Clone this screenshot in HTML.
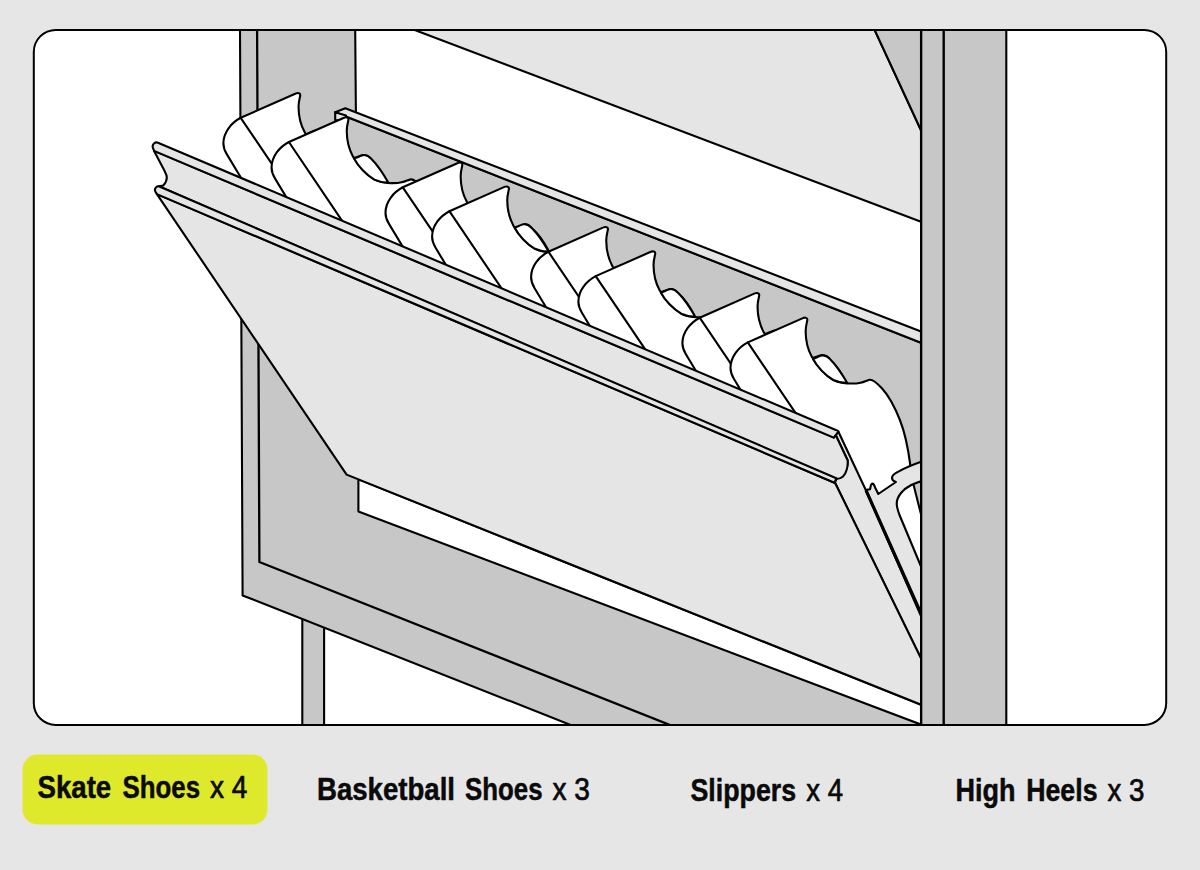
<!DOCTYPE html>
<html><head><meta charset="utf-8"><title>Shoe cabinet</title>
<style>
html,body{margin:0;padding:0;background:#e6e6e6;}
body{width:1200px;height:870px;overflow:hidden;position:relative;font-family:"Liberation Sans",sans-serif;}
svg{position:absolute;left:0;top:0;display:block}
text{font-family:"Liberation Sans",sans-serif;fill:#0a0a0a;stroke:#0a0a0a;stroke-width:.7px;stroke-linejoin:round}
.b{stroke-width:.5px}
.b{font-weight:700}
</style></head><body>
<svg width="1200" height="870" viewBox="0 0 1200 870">
<defs><clipPath id="fr"><rect x="33.8" y="29.95" width="1132.4" height="695.05" rx="22" ry="22"/></clipPath></defs>
<rect x="0" y="0" width="1200" height="870" fill="#e6e6e6"/>
<rect x="33.8" y="29.95" width="1132.4" height="695.05" rx="22" ry="22" fill="#fff"/>
<g clip-path="url(#fr)">
<path d="M302.30,600.00 L302.30,760.00 L324.10,760.00 L324.10,600.00 Z" fill="#c7c7c7" stroke="#000" stroke-width="2.1" stroke-linejoin="round" stroke-linecap="round" />
<path d="M240.00,30.00 L355.20,30.00 L355.90,112.00 L335.20,112.30 L921.00,342.70 L921.00,760.00 L659.31,760.00 L242.60,595.40 Z" fill="#c7c7c7" stroke="#000" stroke-width="2.1" stroke-linejoin="round" stroke-linecap="round" />
<path d="M257.10,30.00 L259.40,562.00 L763.18,762.00" fill="none" stroke="#000" stroke-width="2.3" stroke-linejoin="round" stroke-linecap="round" />
<path d="M414.70,30.00 L874.70,30.00 L921.00,130.30 L921.00,221.80 Z" fill="#e5e5e5" stroke="#000" stroke-width="2.1" stroke-linejoin="round" stroke-linecap="round" />
<path d="M874.70,30.00 L921.00,30.00 L921.00,130.30 Z" fill="#c7c7c7" stroke="#000" stroke-width="2.1" stroke-linejoin="round" stroke-linecap="round" />
<path d="M358.40,479.33 L358.40,511.50 L921.00,724.60 L921.00,704.68 Z" fill="#fff" stroke="#000" stroke-width="2.1" stroke-linejoin="round" stroke-linecap="round" />
<path d="M335.20,112.30 L345.30,108.20 L921.00,331.50 L921.00,342.70 Z" fill="#e5e5e5" stroke="#000" stroke-width="2.1" stroke-linejoin="round" stroke-linecap="round" />
<path d="M335.20,112.30 L335.20,120.30 L346.00,120.30 L346.00,115.50 Z" fill="#e5e5e5" stroke="#000" stroke-width="2.1" stroke-linejoin="round" stroke-linecap="round" />
<path d="M240.70,117.80 L295.80,93.50 C297.70,92.60 300.70,93.10 300.20,95.70 C299.80,97.90 298.50,101.90 298.55,106.90 C298.60,116.90 301.30,125.90 304.60,132.00 C309.30,140.90 318.30,150.90 326.30,155.40 C331.30,157.70 336.30,158.60 342.30,158.90 C346.30,159.10 350.30,158.80 353.40,158.10 C357.30,157.50 359.80,155.70 362.50,155.20 C366.30,154.70 370.80,159.40 375.00,163.90 C381.30,170.90 388.30,183.90 392.80,195.40 C397.80,207.90 401.30,225.90 403.20,240.40 L413.20,291.80 L423.30,342.90  L358.30,342.90 L266.90,220.80 L226.90,154.40 C224.70,150.80 223.30,147.30 223.40,143.10 C223.50,132.30 231.20,122.80 240.70,117.80 Z" fill="#fff" stroke="#000" stroke-width="2.1" stroke-linejoin="round" stroke-linecap="round" />
<path d="M240.70,117.80 L300.70,206.60" fill="none" stroke="#000" stroke-width="2.1" stroke-linejoin="round" stroke-linecap="round" />
<path d="M306.00,134.40 C308.30,133.40 312.30,131.40 314.80,130.90 C317.30,130.40 320.30,131.40 323.30,134.80 C329.30,140.90 335.30,149.90 340.20,158.50 C334.30,158.30 330.30,157.30 326.30,155.40 C318.30,150.90 309.80,141.90 306.00,134.40 Z" fill="#fff" stroke="#000" stroke-width="2.1" stroke-linejoin="round" stroke-linecap="round" />
<path d="M288.90,142.00 L344.00,117.70 C345.90,116.80 348.90,117.30 348.40,119.90 C348.00,122.10 346.70,126.10 346.75,131.10 C346.80,141.10 349.50,150.10 352.80,156.20 C357.50,165.10 366.50,175.10 374.50,179.60 C379.50,181.90 384.50,182.80 390.50,183.10 C394.50,183.30 398.50,183.00 401.60,182.30 C405.50,181.70 408.00,179.90 410.70,179.40 C414.50,178.90 419.00,183.60 423.20,188.10 C429.50,195.10 436.50,208.10 441.00,219.60 C446.00,232.10 449.50,250.10 451.40,264.60 L461.40,316.00 L471.50,367.10  L406.50,367.10 L315.10,245.00 L275.10,178.60 C272.90,175.00 271.50,171.50 271.60,167.30 C271.70,156.50 279.40,147.00 288.90,142.00 Z" fill="#fff" stroke="#000" stroke-width="2.1" stroke-linejoin="round" stroke-linecap="round" />
<path d="M288.90,142.00 L348.90,230.80" fill="none" stroke="#000" stroke-width="2.1" stroke-linejoin="round" stroke-linecap="round" />
<path d="M354.20,158.60 C356.50,157.60 360.50,155.60 363.00,155.10 C365.50,154.60 368.50,155.60 371.50,159.00 C377.50,165.10 383.50,174.10 388.40,182.70 C382.50,182.50 378.50,181.50 374.50,179.60 C366.50,175.10 358.00,166.10 354.20,158.60 Z" fill="#fff" stroke="#000" stroke-width="2.1" stroke-linejoin="round" stroke-linecap="round" />
<path d="M402.80,187.30 L457.90,163.00 C459.80,162.10 462.80,162.60 462.30,165.20 C461.90,167.40 460.60,171.40 460.65,176.40 C460.70,186.40 463.40,195.40 466.70,201.50 C471.40,210.40 480.40,220.40 488.40,224.90 C493.40,227.20 498.40,228.10 504.40,228.40 C508.40,228.60 512.40,228.30 515.50,227.60 C519.40,227.00 521.90,225.20 524.60,224.70 C528.40,224.20 532.90,228.90 537.10,233.40 C543.40,240.40 550.40,253.40 554.90,264.90 C559.90,277.40 563.40,295.40 565.30,309.90 L575.30,361.30 L585.40,412.40  L520.40,412.40 L429.00,290.30 L389.00,223.90 C386.80,220.30 385.40,216.80 385.50,212.60 C385.60,201.80 393.30,192.30 402.80,187.30 Z" fill="#fff" stroke="#000" stroke-width="2.1" stroke-linejoin="round" stroke-linecap="round" />
<path d="M402.80,187.30 L462.80,276.10" fill="none" stroke="#000" stroke-width="2.1" stroke-linejoin="round" stroke-linecap="round" />
<path d="M468.10,203.90 C470.40,202.90 474.40,200.90 476.90,200.40 C479.40,199.90 482.40,200.90 485.40,204.30 C491.40,210.40 497.40,219.40 502.30,228.00 C496.40,227.80 492.40,226.80 488.40,224.90 C480.40,220.40 471.90,211.40 468.10,203.90 Z" fill="#fff" stroke="#000" stroke-width="2.1" stroke-linejoin="round" stroke-linecap="round" />
<path d="M449.40,211.20 L504.50,186.90 C506.40,186.00 509.40,186.50 508.90,189.10 C508.50,191.30 507.20,195.30 507.25,200.30 C507.30,210.30 510.00,219.30 513.30,225.40 C518.00,234.30 527.00,244.30 535.00,248.80 C540.00,251.10 545.00,252.00 551.00,252.30 C555.00,252.50 559.00,252.20 562.10,251.50 C566.00,250.90 568.50,249.10 571.20,248.60 C575.00,248.10 579.50,252.80 583.70,257.30 C590.00,264.30 597.00,277.30 601.50,288.80 C606.50,301.30 610.00,319.30 611.90,333.80 L621.90,385.20 L632.00,436.30  L567.00,436.30 L475.60,314.20 L435.60,247.80 C433.40,244.20 432.00,240.70 432.10,236.50 C432.20,225.70 439.90,216.20 449.40,211.20 Z" fill="#fff" stroke="#000" stroke-width="2.1" stroke-linejoin="round" stroke-linecap="round" />
<path d="M449.40,211.20 L509.40,300.00" fill="none" stroke="#000" stroke-width="2.1" stroke-linejoin="round" stroke-linecap="round" />
<path d="M514.70,227.80 C517.00,226.80 521.00,224.80 523.50,224.30 C526.00,223.80 529.00,224.80 532.00,228.20 C538.00,234.30 544.00,243.30 548.90,251.90 C543.00,251.70 539.00,250.70 535.00,248.80 C527.00,244.30 518.50,235.30 514.70,227.80 Z" fill="#fff" stroke="#000" stroke-width="2.1" stroke-linejoin="round" stroke-linecap="round" />
<path d="M548.40,251.70 L603.50,227.40 C605.40,226.50 608.40,227.00 607.90,229.60 C607.50,231.80 606.20,235.80 606.25,240.80 C606.30,250.80 609.00,259.80 612.30,265.90 C617.00,274.80 626.00,284.80 634.00,289.30 C639.00,291.60 644.00,292.50 650.00,292.80 C654.00,293.00 658.00,292.70 661.10,292.00 C665.00,291.40 667.50,289.60 670.20,289.10 C674.00,288.60 678.50,293.30 682.70,297.80 C689.00,304.80 696.00,317.80 700.50,329.30 C705.50,341.80 709.00,359.80 710.90,374.30 L720.90,425.70 L731.00,476.80  L666.00,476.80 L574.60,354.70 L534.60,288.30 C532.40,284.70 531.00,281.20 531.10,277.00 C531.20,266.20 538.90,256.70 548.40,251.70 Z" fill="#fff" stroke="#000" stroke-width="2.1" stroke-linejoin="round" stroke-linecap="round" />
<path d="M548.40,251.70 L608.40,340.50" fill="none" stroke="#000" stroke-width="2.1" stroke-linejoin="round" stroke-linecap="round" />
<path d="M613.70,268.30 C616.00,267.30 620.00,265.30 622.50,264.80 C625.00,264.30 628.00,265.30 631.00,268.70 C637.00,274.80 643.00,283.80 647.90,292.40 C642.00,292.20 638.00,291.20 634.00,289.30 C626.00,284.80 617.50,275.80 613.70,268.30 Z" fill="#fff" stroke="#000" stroke-width="2.1" stroke-linejoin="round" stroke-linecap="round" />
<path d="M595.70,276.10 L650.80,251.80 C652.70,250.90 655.70,251.40 655.20,254.00 C654.80,256.20 653.50,260.20 653.55,265.20 C653.60,275.20 656.30,284.20 659.60,290.30 C664.30,299.20 673.30,309.20 681.30,313.70 C686.30,316.00 691.30,316.90 697.30,317.20 C701.30,317.40 705.30,317.10 708.40,316.40 C712.30,315.80 714.80,314.00 717.50,313.50 C721.30,313.00 725.80,317.70 730.00,322.20 C736.30,329.20 743.30,342.20 747.80,353.70 C752.80,366.20 756.30,384.20 758.20,398.70 L768.20,450.10 L778.30,501.20  L713.30,501.20 L621.90,379.10 L581.90,312.70 C579.70,309.10 578.30,305.60 578.40,301.40 C578.50,290.60 586.20,281.10 595.70,276.10 Z" fill="#fff" stroke="#000" stroke-width="2.1" stroke-linejoin="round" stroke-linecap="round" />
<path d="M595.70,276.10 L655.70,364.90" fill="none" stroke="#000" stroke-width="2.1" stroke-linejoin="round" stroke-linecap="round" />
<path d="M661.00,292.70 C663.30,291.70 667.30,289.70 669.80,289.20 C672.30,288.70 675.30,289.70 678.30,293.10 C684.30,299.20 690.30,308.20 695.20,316.80 C689.30,316.60 685.30,315.60 681.30,313.70 C673.30,309.20 664.80,300.20 661.00,292.70 Z" fill="#fff" stroke="#000" stroke-width="2.1" stroke-linejoin="round" stroke-linecap="round" />
<path d="M699.70,317.70 L754.80,293.40 C756.70,292.50 759.70,293.00 759.20,295.60 C758.80,297.80 757.50,301.80 757.55,306.80 C757.60,316.80 760.30,325.80 763.60,331.90 C768.30,340.80 777.30,350.80 785.30,355.30 C790.30,357.60 795.30,358.50 801.30,358.80 C805.30,359.00 809.30,358.70 812.40,358.00 C816.30,357.40 818.80,355.60 821.50,355.10 C825.30,354.60 829.80,359.30 834.00,363.80 C840.30,370.80 847.30,383.80 851.80,395.30 C856.80,407.80 860.30,425.80 862.20,440.30 L872.20,491.70 L882.30,542.80  L817.30,542.80 L725.90,420.70 L685.90,354.30 C683.70,350.70 682.30,347.20 682.40,343.00 C682.50,332.20 690.20,322.70 699.70,317.70 Z" fill="#fff" stroke="#000" stroke-width="2.1" stroke-linejoin="round" stroke-linecap="round" />
<path d="M699.70,317.70 L759.70,406.50" fill="none" stroke="#000" stroke-width="2.1" stroke-linejoin="round" stroke-linecap="round" />
<path d="M765.00,334.30 C767.30,333.30 771.30,331.30 773.80,330.80 C776.30,330.30 779.30,331.30 782.30,334.70 C788.30,340.80 794.30,349.80 799.20,358.40 C793.30,358.20 789.30,357.20 785.30,355.30 C777.30,350.80 768.80,341.80 765.00,334.30 Z" fill="#fff" stroke="#000" stroke-width="2.1" stroke-linejoin="round" stroke-linecap="round" />
<path d="M747.80,342.40 L802.90,318.10 C804.80,317.20 807.80,317.70 807.30,320.30 C806.90,322.50 805.60,326.50 805.65,331.50 C805.70,341.50 808.40,350.50 811.70,356.60 C816.40,365.50 825.40,375.50 833.40,380.00 C838.40,382.30 843.40,383.20 849.40,383.50 C853.40,383.70 857.40,383.40 860.50,382.70 C864.40,382.10 866.90,380.30 869.60,379.80 C873.40,379.30 877.90,384.00 882.10,388.50 C888.40,395.50 895.40,408.50 899.90,420.00 C904.90,432.50 908.40,450.50 910.30,465.00 L920.30,516.40 L930.40,567.50  L865.40,567.50 L774.00,445.40 L734.00,379.00 C731.80,375.40 730.40,371.90 730.50,367.70 C730.60,356.90 738.30,347.40 747.80,342.40 Z" fill="#fff" stroke="#000" stroke-width="2.1" stroke-linejoin="round" stroke-linecap="round" />
<path d="M747.80,342.40 L807.80,431.20" fill="none" stroke="#000" stroke-width="2.1" stroke-linejoin="round" stroke-linecap="round" />
<path d="M813.10,359.00 C815.40,358.00 819.40,356.00 821.90,355.50 C824.40,355.00 827.40,356.00 830.40,359.40 C836.40,365.50 842.40,374.50 847.30,383.10 C841.40,382.90 837.40,381.90 833.40,380.00 C825.40,375.50 816.90,366.50 813.10,359.00 Z" fill="#fff" stroke="#000" stroke-width="2.1" stroke-linejoin="round" stroke-linecap="round" />
<path d="M838.20,431.30 L925.00,616.00 L925.00,667.00 L835.00,482.70 L836.30,479.00 L847.50,465.00 L847.60,460.20 L835.70,435.00 Z" fill="#e5e5e5" stroke="#000" stroke-width="2.1" stroke-linejoin="round" stroke-linecap="round" />
<path d="M925,470 L925,580 L899.5,515 C896,505 896,497 901,493 C906,487 914,482.6 925,480.4 Z" fill="#fff" stroke="none" stroke-width="2.1" stroke-linejoin="round" stroke-linecap="round" />
<path d="M912.40,480.20 L925.00,530.00 L925.00,480.00 Z" fill="#c7c7c7" stroke="none" stroke-width="2.1" stroke-linejoin="round" stroke-linecap="round" />
<path d="M912.40,480.20 L925.00,530.00" fill="none" stroke="#000" stroke-width="2.1" stroke-linejoin="round" stroke-linecap="round" />
<path d="M865.8,490.2 L867.7,489.6 L870.0,489.3 C870.6,488.0 870.4,484.2 872.0,483.7 C873.8,483.3 874.6,486.0 875.2,487.7 L878.3,494.0 L895.9,482.0 C893.6,481.2 892.0,479.8 892.0,478.0 C892.0,475.5 894.0,474.0 896.5,472.6 C904.0,468.3 912.0,464.6 925,460.5 L925,480.4 C914.0,482.6 906.0,487.0 901.0,493.0 C897.8,497.0 896.4,501.0 896.8,505.0 C897.2,508.5 898.2,511.5 899.5,515.0 L925,576 L925,625 Z" fill="#e5e5e5" stroke="#000" stroke-width="2.1" stroke-linejoin="round" stroke-linecap="round" />
<path d="M866.50,491.40 L925.00,622.50" fill="none" stroke="#000" stroke-width="3.2" stroke-linejoin="round" stroke-linecap="round" />
<path d="M156.90,194.10 L834.50,482.70 L835.00,482.70 L925.00,666.50 L925.00,706.30 L346.60,474.60 Z" fill="#e5e5e5" stroke="#000" stroke-width="2.1" stroke-linejoin="round" stroke-linecap="round" />
<path d="M154.10,150.90 L833.80,437.60 L835.7,435.0 L847.6,460.2 C848.2,466.0 846.5,473.0 843.0,476.5 C841.0,478.4 838.5,479.0 836.3,479.0 L158.75,186.25 L163.1,185.6 C165.2,183.6 166.6,181.0 166.8,178.0 C167.0,175.4 165.9,173.4 164.5,170.8 L154.10,150.90 Z" fill="#e5e5e5" stroke="#000" stroke-width="2.1" stroke-linejoin="round" stroke-linecap="round" />
<path d="M158.00,142.70 L835.80,430.00 C837.5,430.4 838.6,431.0 838.2,431.8 L833.80,437.60 L154.10,150.90 L153.3,148.9 C152.3,146.9 152.7,144.5 154.3,143.2 C155.3,142.4 156.4,142.1 158.00,142.70 Z" fill="#e5e5e5" stroke="#000" stroke-width="2.1" stroke-linejoin="round" stroke-linecap="round" />
<path d="M158.75,186.25 L836.30,478.30 L834.50,482.70 L156.90,194.10 L155.6,192.0 C154.7,190.4 155.0,188.3 156.2,187.2 C157.0,186.4 157.9,186.1 158.75,186.25 Z" fill="#e5e5e5" stroke="#000" stroke-width="2.1" stroke-linejoin="round" stroke-linecap="round" />
<path d="M921.10,20.00 L1006.30,20.00 L1006.30,760.00 L921.10,760.00 Z" fill="#c7c7c7" stroke="#000" stroke-width="2.1" stroke-linejoin="round" stroke-linecap="round" />
<path d="M943.70,20.00 L943.70,760.00" fill="none" stroke="#000" stroke-width="2.4" stroke-linejoin="round" stroke-linecap="round" />
<path d="M921.10,20.00 L921.10,760.00" fill="none" stroke="#000" stroke-width="2.2" stroke-linejoin="round" stroke-linecap="round" />
</g>
<rect x="33.8" y="29.95" width="1132.4" height="695.05" rx="22" ry="22" fill="none" stroke="#000" stroke-width="2"/>
<rect x="22.5" y="754.5" width="245" height="70" rx="15" ry="15" fill="#dfe92c"/>
<text class="b" x="37.5" y="798" font-size="31.6" textLength="73.7" lengthAdjust="spacingAndGlyphs">Skate</text>
<text class="b" x="122.5" y="798" font-size="31.6" textLength="77.5" lengthAdjust="spacingAndGlyphs">Shoes</text>
<text x="210" y="798" font-size="31.6" textLength="37.5" lengthAdjust="spacingAndGlyphs">x 4</text>
<text class="b" x="317" y="799.5" font-size="31.6" textLength="138" lengthAdjust="spacingAndGlyphs">Basketball</text>
<text class="b" x="465" y="799.5" font-size="31.6" textLength="77.5" lengthAdjust="spacingAndGlyphs">Shoes</text>
<text x="552.5" y="799.5" font-size="31.6" textLength="37.5" lengthAdjust="spacingAndGlyphs">x 3</text>
<text class="b" x="690.5" y="800.5" font-size="31.6" textLength="105.7" lengthAdjust="spacingAndGlyphs">Slippers</text>
<text x="806.2" y="800.5" font-size="31.6" textLength="36.8" lengthAdjust="spacingAndGlyphs">x 4</text>
<text class="b" x="955.5" y="801.2" font-size="31.6" textLength="60" lengthAdjust="spacingAndGlyphs">High</text>
<text class="b" x="1026.2" y="801.2" font-size="31.6" textLength="71.3" lengthAdjust="spacingAndGlyphs">Heels</text>
<text x="1107.5" y="801.2" font-size="31.6" textLength="37" lengthAdjust="spacingAndGlyphs">x 3</text>
</svg>
</body></html>
